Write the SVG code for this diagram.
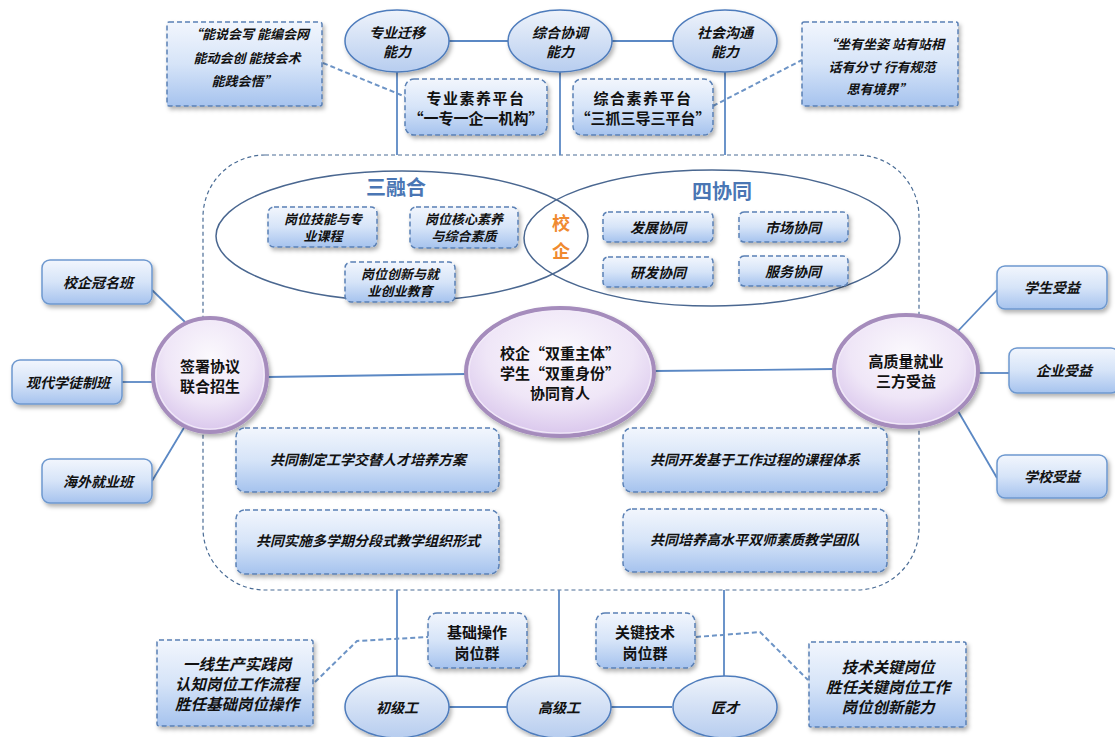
<svg xmlns="http://www.w3.org/2000/svg" width="1115" height="737" viewBox="0 0 1115 737">
<defs>
<linearGradient id="gBox" x1="0" y1="0" x2="0" y2="1">
<stop offset="0" stop-color="#f2f6fd"/><stop offset="0.5" stop-color="#d6e4f8"/><stop offset="1" stop-color="#a6c3ee"/>
</linearGradient>
<linearGradient id="gEll" x1="0" y1="0" x2="0" y2="1">
<stop offset="0" stop-color="#eef3fb"/><stop offset="1" stop-color="#b7cdef"/>
</linearGradient>
<radialGradient id="gPur" cx="0.5" cy="0.35" r="0.65">
<stop offset="0" stop-color="#fbf9fd"/><stop offset="0.6" stop-color="#efe6f7"/><stop offset="1" stop-color="#d9c6ec"/>
</radialGradient>
<filter id="sh" x="-20%" y="-20%" width="140%" height="150%">
<feDropShadow dx="2" dy="3" stdDeviation="2" flood-color="#000" flood-opacity="0.3"/>
</filter>
</defs>
<style>
.dbox{fill:url(#gBox);stroke:#5a80b5;stroke-width:1.5;stroke-dasharray:5 3;filter:url(#sh)}
.sbox{fill:url(#gBox);stroke:#6d98cf;stroke-width:1.5;filter:url(#sh)}
.ell{fill:url(#gEll);stroke:#4e7cbc;stroke-width:1.5;filter:url(#sh)}
.pur{fill:url(#gPur);stroke:#a58cbc;stroke-width:4;filter:url(#sh)}
.purin{fill:none;stroke:#f2ebf8;stroke-width:1.2}
.big{fill:none;stroke:#4a6790;stroke-width:1.5}
.cont{fill:none;stroke:#4b6d96;stroke-width:1.2;stroke-dasharray:4 3}
.ln{stroke:#5b88c4;stroke-width:1.8;fill:none}
.dl{stroke:#6d94c6;stroke-width:2;fill:none;stroke-dasharray:5 3}
text{font-family:"Noto Sans CJK SC","Noto Sans",sans-serif;text-anchor:middle;dominant-baseline:central;fill:#111}
.it{font-style:italic;font-weight:bold;font-size:14px}
.it2{font-style:italic;font-weight:bold;font-size:13px}
.q{font-style:italic;font-weight:bold;font-size:13px}
.bq{font-style:italic;font-weight:bold;font-size:15.5px}
.pl{font-weight:bold;font-size:15px}
.ct{font-weight:bold;font-size:15px}
.ttl{font-weight:bold;font-size:20px;fill:#4a76b4}
.xq{font-weight:bold;font-size:18px;fill:#f08a30}
</style>

<g id="container">
<rect class="cont" x="203" y="155" width="716" height="435" rx="62" ry="62"/>
<ellipse class="big" cx="402" cy="236" rx="186" ry="65"/>
<ellipse class="big" cx="712" cy="238" rx="188" ry="68"/>
</g>

<g id="connectors">
<line class="ln" x1="449" y1="41" x2="508" y2="41"/>
<line class="ln" x1="612" y1="41" x2="673" y2="41"/>
<line class="ln" x1="397" y1="72" x2="397" y2="155"/>
<line class="ln" x1="560" y1="72" x2="560" y2="155"/>
<line class="ln" x1="725" y1="72" x2="725" y2="155"/>
<line class="ln" x1="397" y1="590" x2="397" y2="676"/>
<line class="ln" x1="559" y1="590" x2="559" y2="676"/>
<line class="ln" x1="724" y1="590" x2="724" y2="676"/>
<line class="ln" x1="449" y1="707" x2="507" y2="707"/>
<line class="ln" x1="611" y1="707" x2="672" y2="707"/>
<line class="ln" x1="268" y1="377" x2="466" y2="374"/>
<line class="ln" x1="654" y1="371" x2="835" y2="369"/>
<line class="ln" x1="152" y1="290" x2="185" y2="322"/>
<line class="ln" x1="122" y1="382" x2="152" y2="382"/>
<line class="ln" x1="152" y1="481" x2="185" y2="426"/>
<line class="ln" x1="997" y1="290" x2="958" y2="331"/>
<line class="ln" x1="1009" y1="373" x2="978" y2="373"/>
<line class="ln" x1="997" y1="478" x2="958" y2="411"/>
<line class="dl" x1="323" y1="63" x2="406" y2="97"/>
<line class="dl" x1="713" y1="106" x2="802" y2="60"/>
<polyline class="dl" points="315,682 357,641 428,637"/>
<polyline class="dl" points="696,637 760,632 808,680"/>
</g>

<g id="n-zhuanye"><ellipse class="ell" cx="397" cy="41" rx="52" ry="31"/><text class="it" x="397" y="32">专业迁移</text><text class="it" x="397" y="51">能力</text></g>
<g id="n-zonghe"><ellipse class="ell" cx="560" cy="41" rx="52" ry="31"/><text class="it" x="560" y="32">综合协调</text><text class="it" x="560" y="51">能力</text></g>
<g id="n-shehui"><ellipse class="ell" cx="725" cy="41" rx="52" ry="31"/><text class="it" x="725" y="32">社会沟通</text><text class="it" x="725" y="51">能力</text></g>

<g id="n-quote-tl"><rect class="dbox" x="167" y="22" width="155" height="84" rx="2"/>
<text class="q" x="249" y="33">“能说会写 能编会网</text><text class="q" x="247" y="57">能动会创 能技会术</text><text class="q" x="244" y="80">能践会悟”</text></g>
<g id="n-quote-tr"><rect class="dbox" x="802" y="22" width="156" height="84" rx="2"/>
<text class="q" x="884" y="43">“坐有坐姿 站有站相</text><text class="q" x="882" y="66">话有分寸 行有规范</text><text class="q" x="879" y="88">思有境界”</text></g>

<g id="n-plat1"><rect class="dbox" x="405" y="79" width="142" height="56" rx="9"/>
<text class="pl" x="476" y="97" letter-spacing="1.5">专业素养平台</text><text class="pl" x="476" y="117" font-size="14">“一专一企一机构”</text></g>
<g id="n-plat2"><rect class="dbox" x="573" y="79" width="140" height="56" rx="9"/>
<text class="pl" x="643" y="97" letter-spacing="1.5">综合素养平台</text><text class="pl" x="643" y="117" font-size="14">“三抓三导三平台”</text></g>

<g id="n-sanronghe"><text class="ttl" x="396" y="186">三融合</text></g>
<g id="n-sixietong"><text class="ttl" x="722" y="190">四协同</text></g>
<g id="n-xiaoqi"><text class="xq" x="561" y="222">校</text><text class="xq" x="561" y="250">企</text></g>

<g id="n-r1"><rect class="dbox" x="268" y="207" width="109" height="40" rx="6"/><text class="it2" x="323" y="218">岗位技能与专</text><text class="it2" x="323" y="235">业课程</text></g>
<g id="n-r2"><rect class="dbox" x="410" y="207" width="108" height="41" rx="6"/><text class="it2" x="464" y="218">岗位核心素养</text><text class="it2" x="464" y="235">与综合素质</text></g>
<g id="n-r3"><rect class="dbox" x="345" y="262" width="110" height="40" rx="6"/><text class="it2" x="400" y="273">岗位创新与就</text><text class="it2" x="400" y="290">业创业教育</text></g>

<g id="n-x1"><rect class="dbox" x="603" y="212" width="110" height="30" rx="5"/><text class="it" x="658" y="227">发展协同</text></g>
<g id="n-x2"><rect class="dbox" x="739" y="212" width="109" height="30" rx="5"/><text class="it" x="793" y="227">市场协同</text></g>
<g id="n-x3"><rect class="dbox" x="603" y="257" width="110" height="30" rx="5"/><text class="it" x="658" y="272">研发协同</text></g>
<g id="n-x4"><rect class="dbox" x="739" y="256" width="109" height="30" rx="5"/><text class="it" x="793" y="271">服务协同</text></g>

<g id="n-l1"><rect class="sbox" x="42" y="260" width="110" height="44" rx="8"/><text class="it" x="98" y="282">校企冠名班</text></g>
<g id="n-l2"><rect class="sbox" x="12" y="360" width="110" height="44" rx="8"/><text class="it" x="68" y="382">现代学徒制班</text></g>
<g id="n-l3"><rect class="sbox" x="42" y="459" width="110" height="44" rx="8"/><text class="it" x="98" y="481">海外就业班</text></g>

<g id="n-left"><ellipse class="pur" cx="210" cy="375" rx="57" ry="57"/><ellipse class="purin" cx="210" cy="375" rx="54" ry="54"/>
<text class="ct" x="210" y="365" font-size="16">签署协议</text><text class="ct" x="210" y="385" font-size="16">联合招生</text></g>
<g id="n-center"><ellipse class="pur" cx="560" cy="372" rx="94" ry="64"/><ellipse class="purin" cx="560" cy="372" rx="91" ry="61"/>
<text class="ct" x="560" y="352">校企“双重主体”</text><text class="ct" x="560" y="372">学生“双重身份”</text><text class="ct" x="560" y="392">协同育人</text></g>
<g id="n-right"><ellipse class="pur" cx="906" cy="371" rx="72" ry="56"/><ellipse class="purin" cx="906" cy="371" rx="69" ry="53"/>
<text class="ct" x="906" y="360" font-size="16">高质量就业</text><text class="ct" x="906" y="380" font-size="16">三方受益</text></g>

<g id="n-r-1"><rect class="sbox" x="997" y="266" width="110" height="43" rx="8"/><text class="it" x="1052" y="287">学生受益</text></g>
<g id="n-r-2"><rect class="sbox" x="1009" y="348" width="110" height="45" rx="8"/><text class="it" x="1064" y="370">企业受益</text></g>
<g id="n-r-3"><rect class="sbox" x="997" y="455" width="110" height="43" rx="8"/><text class="it" x="1052" y="476">学校受益</text></g>

<g id="n-b1"><rect class="dbox" x="236" y="428" width="263" height="64" rx="9"/><text class="it" x="368" y="459">共同制定工学交替人才培养方案</text></g>
<g id="n-b2"><rect class="dbox" x="623" y="428" width="264" height="64" rx="9"/><text class="it" x="755" y="459">共同开发基于工作过程的课程体系</text></g>
<g id="n-b3"><rect class="dbox" x="236" y="510" width="263" height="64" rx="9"/><text class="it" x="368" y="540">共同实施多学期分段式教学组织形式</text></g>
<g id="n-b4"><rect class="dbox" x="623" y="509" width="264" height="63" rx="9"/><text class="it" x="755" y="539">共同培养高水平双师素质教学团队</text></g>

<g id="n-jichu"><rect class="dbox" x="428" y="613" width="99" height="55" rx="9"/><text class="pl" x="477" y="631">基础操作</text><text class="pl" x="477" y="652">岗位群</text></g>
<g id="n-guanjian"><rect class="dbox" x="596" y="613" width="99" height="55" rx="9"/><text class="pl" x="645" y="631">关键技术</text><text class="pl" x="645" y="652">岗位群</text></g>

<g id="n-quote-bl"><rect class="dbox" x="157" y="640" width="156" height="86" rx="2"/>
<text class="bq" x="237" y="663">一线生产实践岗</text><text class="bq" x="237" y="683">认知岗位工作流程</text><text class="bq" x="237" y="703">胜任基础岗位操作</text></g>
<g id="n-quote-br"><rect class="dbox" x="809" y="642" width="157" height="85" rx="2"/>
<text class="bq" x="888" y="666">技术关键岗位</text><text class="bq" x="888" y="686">胜任关键岗位工作</text><text class="bq" x="888" y="706">岗位创新能力</text></g>

<g id="n-chuji"><ellipse class="ell" cx="397" cy="707" rx="52" ry="31"/><text class="it" x="397" y="707">初级工</text></g>
<g id="n-gaoji"><ellipse class="ell" cx="559" cy="707" rx="52" ry="31"/><text class="it" x="559" y="707">高级工</text></g>
<g id="n-jiangcai"><ellipse class="ell" cx="725" cy="707" rx="52" ry="31"/><text class="it" x="725" y="707">匠才</text></g>
</svg>
